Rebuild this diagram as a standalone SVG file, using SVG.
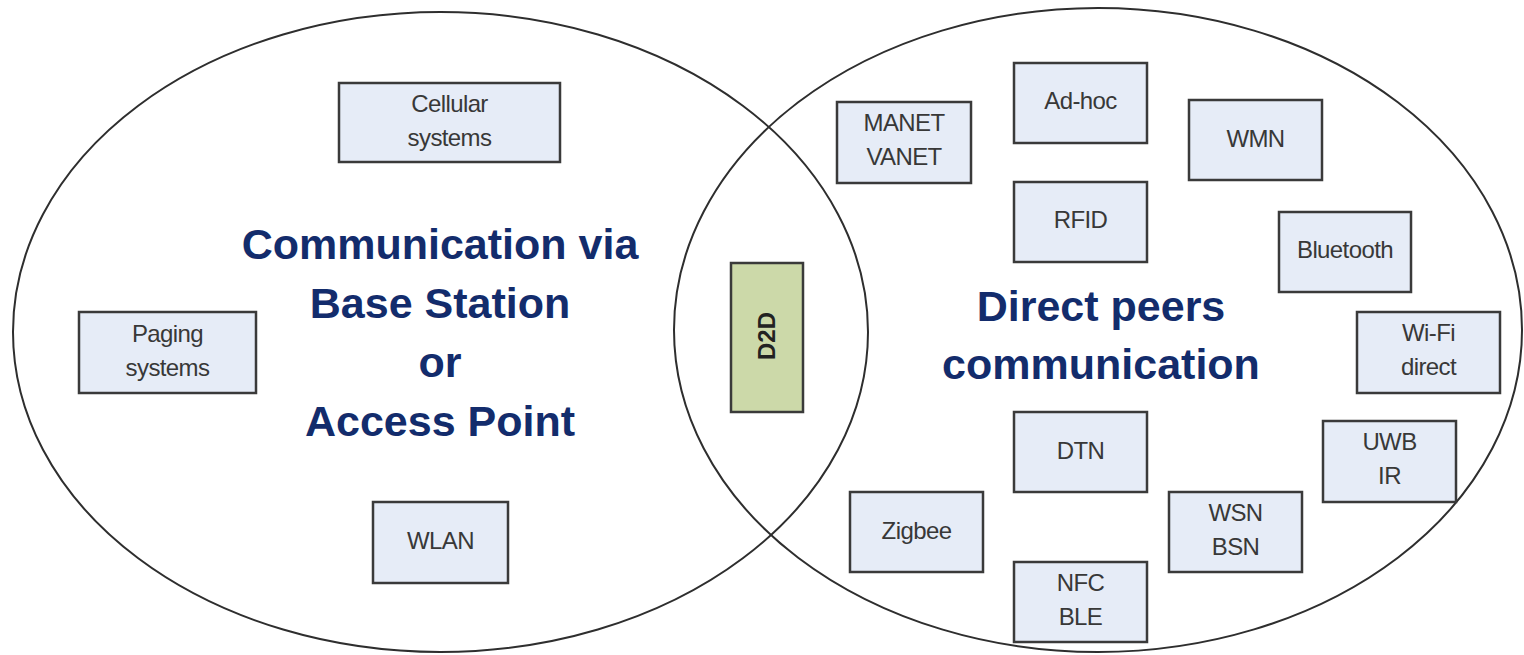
<svg xmlns="http://www.w3.org/2000/svg" width="1524" height="655" viewBox="0 0 1524 655">
<style>
.ell{fill:none;stroke:#2e2e2e;stroke-width:2}
.box{fill:#e6ecf7;stroke:#3a3a3a;stroke-width:2.5}
.d2d{fill:#ccd9a9;stroke:#3a3a3a;stroke-width:2.5}
.t{font-family:"Liberation Sans",Arial,sans-serif;font-size:24px;fill:#383838;text-anchor:middle;letter-spacing:-0.6px}
.big{font-family:"Liberation Sans",Arial,sans-serif;font-size:43px;font-weight:bold;fill:#132c6c;text-anchor:middle}
.dt{font-family:"Liberation Sans",Arial,sans-serif;font-size:24px;font-weight:bold;fill:#222;text-anchor:middle}
</style>
<rect width="1524" height="655" fill="#fff"/>
<g id="regions">
<ellipse class="ell" cx="440.5" cy="332" rx="427.5" ry="320"/>
<ellipse class="ell" cx="1098" cy="330" rx="424" ry="322"/>
</g>
<g id="titles">
<text class="big"><tspan x="440" y="259">Communication via</tspan><tspan x="440" y="318">Base Station</tspan><tspan x="440" y="377">or</tspan><tspan x="440" y="436">Access Point</tspan></text>
<text class="big" font-size="42"><tspan x="1101" y="321">Direct peers</tspan><tspan x="1101" y="379">communication</tspan></text>
</g>
<g id="cellular"><rect class="box" x="339" y="83" width="221" height="79"/><text class="t"><tspan x="449.5" y="112">Cellular</tspan><tspan x="449.5" y="146">systems</tspan></text></g>
<g id="paging"><rect class="box" x="79" y="312" width="177" height="81"/><text class="t"><tspan x="167.5" y="342">Paging</tspan><tspan x="167.5" y="376">systems</tspan></text></g>
<g id="wlan"><rect class="box" x="373" y="502" width="135" height="81"/><text class="t"><tspan x="440.5" y="549">WLAN</tspan></text></g>
<g id="d2d"><rect class="d2d" x="731" y="263" width="72" height="149"/><text class="dt" transform="translate(775 336) rotate(-90)" x="0" y="0">D2D</text></g>
<g id="manet"><rect class="box" x="837" y="102" width="134" height="81"/><text class="t"><tspan x="904" y="131">MANET</tspan><tspan x="904" y="165">VANET</tspan></text></g>
<g id="adhoc"><rect class="box" x="1014" y="63" width="133" height="80"/><text class="t"><tspan x="1080.5" y="109">Ad-hoc</tspan></text></g>
<g id="wmn"><rect class="box" x="1189" y="100" width="133" height="80"/><text class="t"><tspan x="1255.5" y="147">WMN</tspan></text></g>
<g id="rfid"><rect class="box" x="1014" y="182" width="133" height="80"/><text class="t"><tspan x="1080.5" y="228">RFID</tspan></text></g>
<g id="bluetooth"><rect class="box" x="1279" y="212" width="132" height="80"/><text class="t"><tspan x="1345" y="258">Bluetooth</tspan></text></g>
<g id="wifi"><rect class="box" x="1357" y="312" width="143" height="81"/><text class="t"><tspan x="1428.5" y="341">Wi-Fi</tspan><tspan x="1428.5" y="375">direct</tspan></text></g>
<g id="uwb"><rect class="box" x="1323" y="421" width="133" height="81"/><text class="t"><tspan x="1389.5" y="450">UWB</tspan><tspan x="1389.5" y="484">IR</tspan></text></g>
<g id="dtn"><rect class="box" x="1014" y="412" width="133" height="80"/><text class="t"><tspan x="1080.5" y="459">DTN</tspan></text></g>
<g id="zigbee"><rect class="box" x="850" y="492" width="133" height="80"/><text class="t"><tspan x="916.5" y="539">Zigbee</tspan></text></g>
<g id="wsn"><rect class="box" x="1169" y="492" width="133" height="80"/><text class="t"><tspan x="1235.5" y="521">WSN</tspan><tspan x="1235.5" y="555">BSN</tspan></text></g>
<g id="nfc"><rect class="box" x="1014" y="562" width="133" height="80"/><text class="t"><tspan x="1080.5" y="591">NFC</tspan><tspan x="1080.5" y="625">BLE</tspan></text></g>
<g id="connectors"></g>
</svg>
